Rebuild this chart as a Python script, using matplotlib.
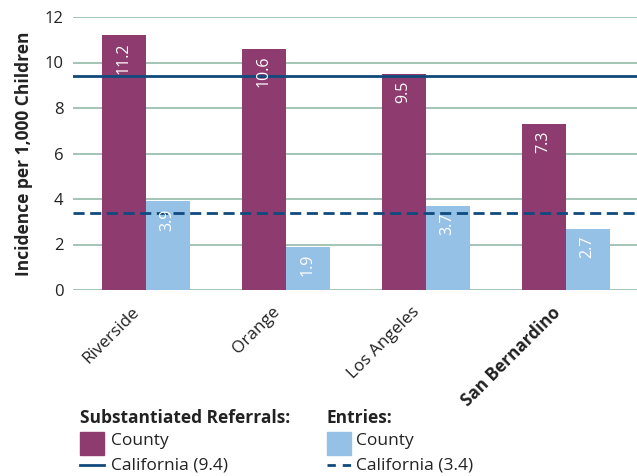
import matplotlib
matplotlib.use("Agg")
import matplotlib.pyplot as plt
from matplotlib.patches import Rectangle
from matplotlib.lines import Line2D
import numpy as np

plt.rcParams['font.family'] = ['Open Sans', 'DejaVu Sans']

counties = ["Riverside", "Orange", "Los Angeles", "San Bernardino"]
referrals = [11.2, 10.6, 9.5, 7.3]
entries = [3.9, 1.9, 3.7, 2.7]
ca_referrals = 9.4
ca_entries = 3.4
yticks = [0, 2, 4, 6, 8, 10, 12]

purple = "#8e3b6f"
lblue = "#96c1e6"
navy = "#104a7c"
grid = "#9cbfb0"
txt = "#222222"

fig = plt.figure(figsize=(6.37, 4.76), dpi=100)
ax = fig.add_axes([73/637, 1-290/476, (637-73)/637, (290-17)/476])

x = np.arange(len(counties))
w = 0.314
ax.set_axisbelow(True)
for yv in yticks:
    ax.axhline(yv, color=grid, lw=1.3, zorder=0)
b1 = ax.bar(x - w/2, referrals, w, color=purple, zorder=2)
b2 = ax.bar(x + w/2, entries, w, color=lblue, zorder=2)
ax.axhline(ca_referrals, color=navy, lw=2, zorder=3)
ax.axhline(ca_entries, color=navy, lw=2, ls=(0, (4, 2)), zorder=3)

for bars, vals in ((b1, referrals), (b2, entries)):
    for b, v in zip(bars, vals):
        ax.annotate(f"{v}", (b.get_x() + b.get_width()/2, v), xytext=(0, -5),
                    textcoords="offset points", rotation=90, ha="center", va="top",
                    color="white", fontsize=11.5, zorder=4)

ax.set_xlim(-0.52, 3.51)
ax.set_ylim(0, 12)
ax.set_yticks(yticks)
ax.set_yticklabels([str(v) for v in yticks], fontsize=12, color=txt)
ax.tick_params(axis='y', length=0, pad=7)
ax.tick_params(axis='x', length=0, pad=10)
ax.set_xticks(x - 0.1)
ax.set_xticklabels(counties, rotation=45, ha="right", rotation_mode="anchor",
                   fontsize=12.3, color=txt)
ax.get_xticklabels()[3].set_fontweight("bold")
for s in ax.spines.values():
    s.set_visible(False)
ax.set_ylabel("Incidence per 1,000 Children", fontsize=12.5, fontweight="bold",
              color=txt, labelpad=8)

# legend
def fx(px): return px/637
def fy(py): return 1 - py/476

fig.text(fx(80), fy(418), "Substantiated Referrals:", fontsize=12.5, fontweight="bold",
         color=txt, va="center")
fig.text(fx(327), fy(418), "Entries:", fontsize=12.5, fontweight="bold", color=txt, va="center")
fig.patches.append(Rectangle((fx(80), fy(455)), fx(24), 23/476, color=purple,
                             transform=fig.transFigure, figure=fig))
fig.patches.append(Rectangle((fx(327), fy(455)), fx(24), 23/476, color=lblue,
                             transform=fig.transFigure, figure=fig))
fig.text(fx(111), fy(441), "County", fontsize=12.5, color=txt, va="center")
fig.text(fx(356), fy(441), "County", fontsize=12.5, color=txt, va="center")
fig.lines.append(Line2D([fx(80), fx(104)], [fy(465), fy(465)], color=navy, lw=2,
                        transform=fig.transFigure, figure=fig))
fig.lines.append(Line2D([fx(327), fx(351)], [fy(465), fy(465)], color=navy, lw=2,
                        ls=(0, (3, 2.5)), transform=fig.transFigure, figure=fig))
fig.text(fx(111), fy(465), "California (9.4)", fontsize=12.5, color=txt, va="center")
fig.text(fx(356), fy(465), "California (3.4)", fontsize=12.5, color=txt, va="center")

fig.savefig("out.png", dpi=100)
